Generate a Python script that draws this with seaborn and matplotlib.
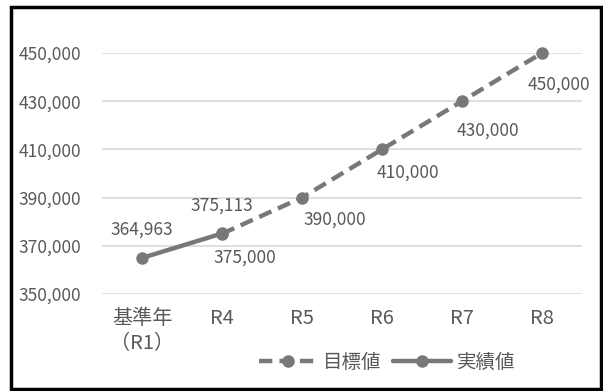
import numpy as np
import pandas as pd
import matplotlib.pyplot as plt
import seaborn as sns
from matplotlib.patches import Rectangle
from matplotlib.ticker import FuncFormatter

categories = ['基準年\n（R1）', 'R4', 'R5', 'R6', 'R7', 'R8']
target_cats = ['R4', 'R5', 'R6', 'R7', 'R8']
target_vals = [375000, 390000, 410000, 430000, 450000]
actual_cats = ['基準年\n（R1）', 'R4']
actual_vals = [364963, 375113]
yticks = [350000, 370000, 390000, 410000, 430000, 450000]

sns.set_theme(style='white')
plt.rcParams['font.family'] = ['Noto Sans CJK JP', 'DejaVu Sans']

gray = '#787878'
text_c = '#595959'

df_t = pd.DataFrame({'x': [categories.index(c) for c in target_cats], 'y': target_vals})
df_a = pd.DataFrame({'x': [categories.index(c) for c in actual_cats], 'y': actual_vals})

fig = plt.figure(figsize=(6.03, 3.91), dpi=100)
ax = fig.add_axes([102/603, 97/391, 480/603, 241/391])

sns.lineplot(data=df_t, x='x', y='y', ax=ax, color=gray, linewidth=3.2, linestyle=(0, (3, 1.6)),
             marker='o', markersize=9, markeredgewidth=0, label='目標値', clip_on=False)
sns.lineplot(data=df_a, x='x', y='y', ax=ax, color=gray, linewidth=3.2,
             marker='o', markersize=9, markeredgewidth=0, label='実績値', clip_on=False)

# label offsets (pixels) as placed in the original
t_off = [(23, -24), (33, -22), (26, -23), (26, -29), (17, -32)]
for (x, y), off in zip(zip(df_t['x'], df_t['y']), t_off):
    ax.annotate(f'{y:,}', (x, y), xytext=off, textcoords='offset pixels',
                ha='center', va='center', fontsize=12.5, color=text_c)
for x, y in zip(df_a['x'], df_a['y']):
    ax.annotate(f'{y:,}', (x, y), xytext=(0, 28), textcoords='offset pixels',
                ha='center', va='center', fontsize=12.5, color=text_c)

ax.set_xlim(-0.5, len(categories) - 0.5)
ax.set_ylim(350000, 450000)
ax.set_xticks(range(len(categories)))
ax.set_xticklabels(categories, linespacing=1.25)
ax.set_yticks(yticks)
ax.yaxis.set_major_formatter(FuncFormatter(lambda v, p: f'{int(v):,}'))
ax.tick_params(axis='both', length=0, labelcolor=text_c)
ax.tick_params(axis='x', pad=10, labelsize=14.5)
ax.tick_params(axis='y', pad=15, labelsize=12.5)
ax.grid(axis='y', color='#d9d9d9', linewidth=1.2)
ax.set_xlabel('')
ax.set_ylabel('')
sns.despine(ax=ax, left=True, bottom=True)

leg = ax.legend(loc='center', bbox_to_anchor=(387/603, 29/391), bbox_transform=fig.transFigure,
                ncol=2, frameon=False, fontsize=14, handlelength=3.0, columnspacing=0.6,
                handletextpad=0.3)
for t in leg.get_texts():
    t.set_color(text_c)

fig.patches.append(Rectangle((11/603, 2/391), 590/603, 382/391, transform=fig.transFigure,
                             fill=False, edgecolor='black', linewidth=2.5))

fig.savefig('out.png', dpi=100)
